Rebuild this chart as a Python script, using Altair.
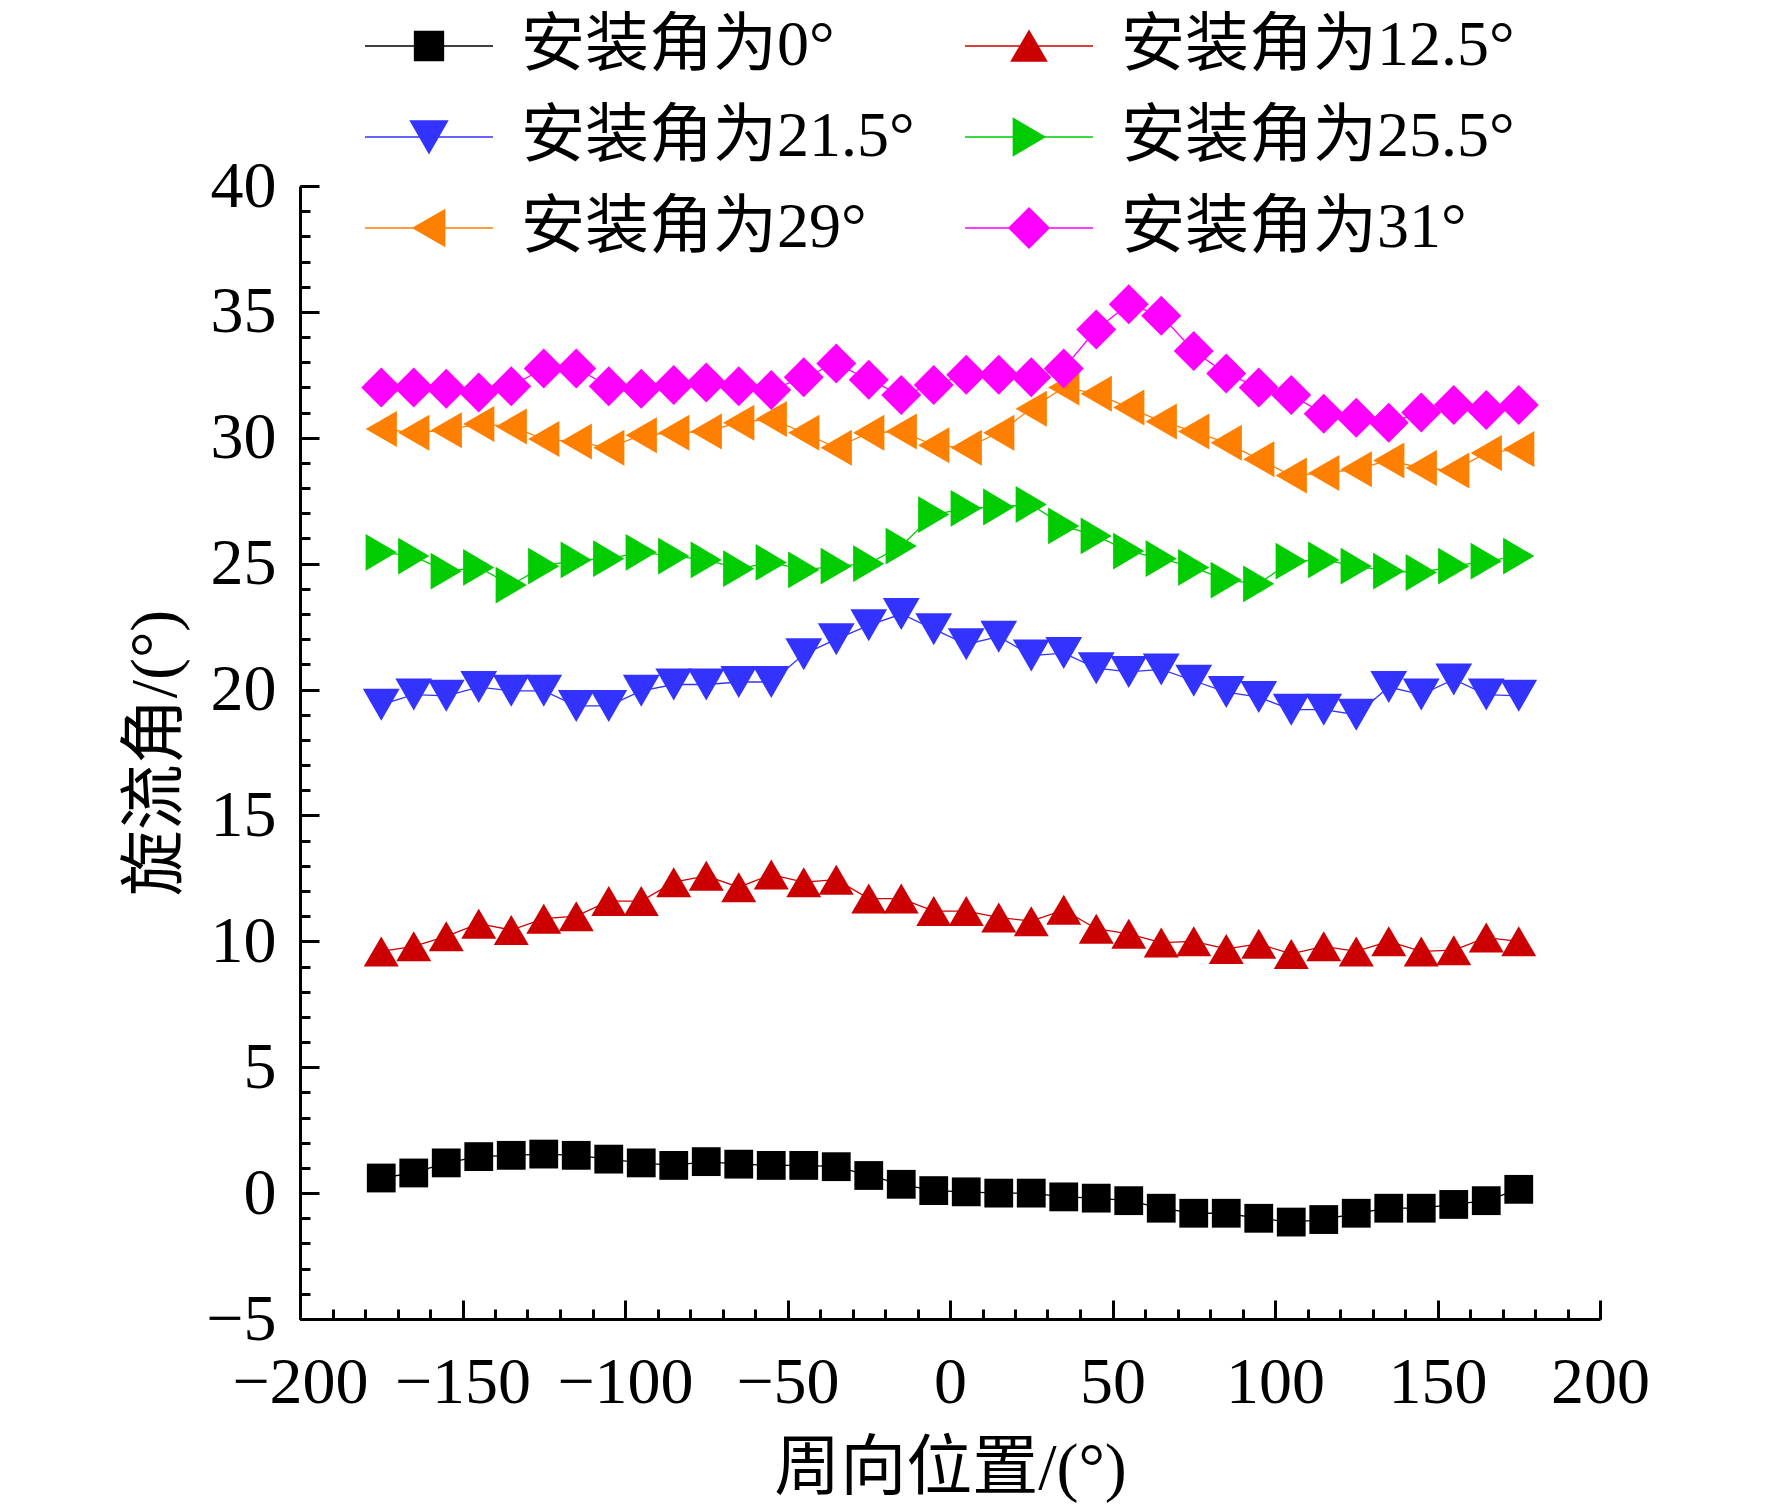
import altair as alt
import pandas as pd

# ---------------- data ----------------
positions = [-175, -165, -155, -145, -135, -125, -115, -105, -95, -85, -75, -65,
             -55, -45, -35, -25, -15, -5, 5, 15, 25, 35, 45, 55,
             65, 75, 85, 95, 105, 115, 125, 135, 145, 155, 165, 175]

angle_0 = [0.6, 0.8, 1.2, 1.45, 1.5, 1.55, 1.5, 1.35, 1.2, 1.1, 1.25, 1.15,
           1.1, 1.1, 1.05, 0.7, 0.35, 0.1, 0.05, 0.0, 0.0, -0.15, -0.2, -0.3,
           -0.6, -0.8, -0.8, -1.0, -1.15, -1.05, -0.8, -0.6, -0.6, -0.45, -0.3, 0.15]

angle_12_5 = [9.6, 9.8, 10.2, 10.7, 10.45, 10.9, 11.0, 11.6, 11.6, 12.35, 12.6, 12.15,
              12.65, 12.35, 12.45, 11.7, 11.7, 11.2, 11.2, 10.95, 10.8, 11.25, 10.5, 10.3,
              9.95, 10.0, 9.7, 9.9, 9.5, 9.8, 9.6, 10.0, 9.6, 9.65, 10.15, 10.0]

angle_21_5 = [19.4, 19.8, 19.75, 20.1, 19.95, 19.95, 19.35, 19.35, 19.95, 20.2, 20.2, 20.3,
              20.3, 21.4, 22.0, 22.55, 23.0, 22.4, 21.8, 22.1, 21.35, 21.45, 20.85, 20.7,
              20.8, 20.35, 19.9, 19.7, 19.2, 19.2, 19.0, 20.1, 19.8, 20.4, 19.8, 19.75]

angle_25_5 = [25.45, 25.3, 24.7, 24.85, 24.15, 24.9, 25.15, 25.2, 25.45, 25.3, 25.15, 24.8,
              25.05, 24.75, 24.9, 25.0, 25.7, 26.95, 27.2, 27.25, 27.35, 26.5, 26.1, 25.5,
              25.2, 24.85, 24.35, 24.2, 25.1, 25.15, 24.9, 24.7, 24.65, 24.9, 25.1, 25.3]

angle_29 = [30.35, 30.2, 30.3, 30.55, 30.45, 29.95, 29.85, 29.6, 30.1, 30.2, 30.25, 30.6,
            30.75, 30.2, 29.6, 30.2, 30.25, 29.7, 29.6, 30.2, 31.15, 32.0, 31.75, 31.2,
            30.65, 30.25, 29.8, 29.15, 28.5, 28.6, 28.75, 29.1, 28.8, 28.7, 29.4, 29.55]

angle_31 = [32.0, 32.0, 31.95, 31.8, 32.05, 32.75, 32.75, 32.05, 31.95, 32.1, 32.2, 32.05,
            31.9, 32.4, 32.95, 32.3, 31.7, 32.1, 32.5, 32.5, 32.4, 32.75, 34.3, 35.3,
            34.85, 33.45, 32.55, 32.0, 31.7, 30.95, 30.8, 30.6, 31.0, 31.3, 31.1, 31.3]

names = ["安装角为0°", "安装角为12.5°", "安装角为21.5°",
         "安装角为25.5°", "安装角为29°", "安装角为31°"]
series_values = [angle_0, angle_12_5, angle_21_5, angle_25_5, angle_29, angle_31]

# legend reading order (legend fills column by column)
legend_order = [0, 2, 4, 1, 3, 5]

x_major_ticks = [-200, -150, -100, -50, 0, 50, 100, 150, 200]
x_minor_ticks = list(range(-200, 201, 10))
y_major_ticks = [-5, 0, 5, 10, 15, 20, 25, 30, 35, 40]
y_minor_ticks = list(range(-5, 41, 1))

x_title = "周向位置/(°)"
y_title = "旋流角/(°)"

# ---------------- styles ----------------
colors = ["#000000", "#cc0000", "#3333ff", "#00cc00", "#ff8000", "#ff00ff"]
marker_paths = [
    "M-0.72,-0.72H0.72V0.72H-0.72Z",          # square
    "M0,-0.75L0.875,0.75L-0.875,0.75Z",        # triangle up
    "M0,0.8L0.92,-0.8L-0.92,-0.8Z",            # triangle down
    "M0.78,0L-0.78,-0.92L-0.78,0.92Z",         # triangle right
    "M-0.78,0L0.78,-0.9L0.78,0.9Z",            # triangle left
    "M0,-1L1,0L0,1L-1,0Z",                     # diamond
]
legend_paths = [p + "M-3.2,0H3.2" for p in marker_paths]

leg_names = [names[i] for i in legend_order]
leg_colors = [colors[i] for i in legend_order]
leg_paths = [legend_paths[i] for i in legend_order]

FONT = "'Liberation Serif', 'Noto Sans CJK SC'"
W, H = 1300, 1133
MSIZE = 1600

rows = []
for name, vals in zip(names, series_values):
    for xp, v in zip(positions, vals):
        rows.append({"series": name, "pos": xp, "val": v})
df = pd.DataFrame(rows)

xscale = alt.Scale(domain=[-200, 200], nice=False, zero=False)
yscale = alt.Scale(domain=[-5, 40], nice=False, zero=False)

color_scale = alt.Scale(domain=names, range=colors)

main_x_axis = alt.Axis(orient="bottom", values=x_major_ticks, ticks=False, tickSize=0,
                       labelPadding=31, title=x_title, titlePadding=21, domainWidth=3,
                       labelFlush=False, labelOverlap=False, grid=False)
main_y_axis = alt.Axis(orient="left", values=y_major_ticks, ticks=False, tickSize=0,
                       labelPadding=24, title=y_title, titlePadding=16, domainWidth=3,
                       labelFlush=False, labelOverlap=False, grid=False)

major_x_axis = alt.Axis(orient="top", offset=-H, values=x_major_ticks, tickSize=19, tickWidth=3,
                        labels=False, domain=False, title=None, grid=False)
major_y_axis = alt.Axis(orient="right", offset=-W, values=y_major_ticks, tickSize=19, tickWidth=3,
                        labels=False, domain=False, title=None, grid=False)
minor_x_axis = alt.Axis(orient="top", offset=-H, values=x_minor_ticks, tickSize=10, tickWidth=3,
                        labels=False, domain=False, title=None, grid=False)
minor_y_axis = alt.Axis(orient="right", offset=-W, values=y_minor_ticks, tickSize=10, tickWidth=3,
                        labels=False, domain=False, title=None, grid=False)

lines = alt.Chart(df).mark_line(strokeWidth=1.3).encode(
    x=alt.X("pos:Q", scale=xscale, axis=main_x_axis),
    y=alt.Y("val:Q", scale=yscale, axis=main_y_axis),
    color=alt.Color("series:N", scale=color_scale, legend=None),
)

points = alt.Chart(df).mark_point(filled=True, size=MSIZE, opacity=1, strokeWidth=0).encode(
    x=alt.X("pos:Q", scale=xscale, axis=major_x_axis),
    y=alt.Y("val:Q", scale=yscale, axis=major_y_axis),
    color=alt.Color("series:N", scale=color_scale, legend=None),
    shape=alt.Shape("series:N", scale=alt.Scale(domain=names, range=marker_paths), legend=None),
)

LEG = alt.Legend(orient="none", legendX=97, legendY=-172, columns=2, title=None,
                 symbolSize=MSIZE, symbolStrokeWidth=1.5, labelOffset=60,
                 labelFont=FONT, labelFontSize=64, labelColor="black", labelLimit=2000,
                 rowPadding=27, columnPadding=47, padding=0, symbolOpacity=1)

legend_layer = alt.Chart(df).transform_filter("false").mark_point(
    filled=True, size=MSIZE, opacity=1, strokeWidth=1.5
).encode(
    x=alt.X("pos:Q", scale=xscale, axis=minor_x_axis),
    y=alt.Y("val:Q", scale=yscale, axis=minor_y_axis),
    color=alt.Color("series:N", scale=alt.Scale(domain=leg_names, range=leg_colors), legend=LEG),
    stroke=alt.Stroke("series:N", scale=alt.Scale(domain=leg_names, range=leg_colors), legend=LEG),
    shape=alt.Shape("series:N", scale=alt.Scale(domain=leg_names, range=leg_paths), legend=LEG),
)

chart = alt.layer(lines, points, legend_layer).resolve_scale(
    color="independent", shape="independent", stroke="independent"
).resolve_legend(
    color="independent", shape="independent", stroke="independent"
).resolve_axis(
    x="independent", y="independent"
).properties(
    width=W, height=H,
    autosize=alt.AutoSizeParams(type="none"),
    padding={"left": 292, "top": 178, "right": 150, "bottom": 190},
).configure_view(
    stroke=None
).configure_axis(
    labelFont=FONT, titleFont=FONT, labelFontSize=66, titleFontSize=66,
    labelColor="black", titleColor="black", titleFontWeight="normal",
    domainColor="black", tickColor="black", grid=False,
).configure_legend(
    labelFont=FONT
)

chart.save("out.html", embed_options={"renderer": "svg", "actions": False})
